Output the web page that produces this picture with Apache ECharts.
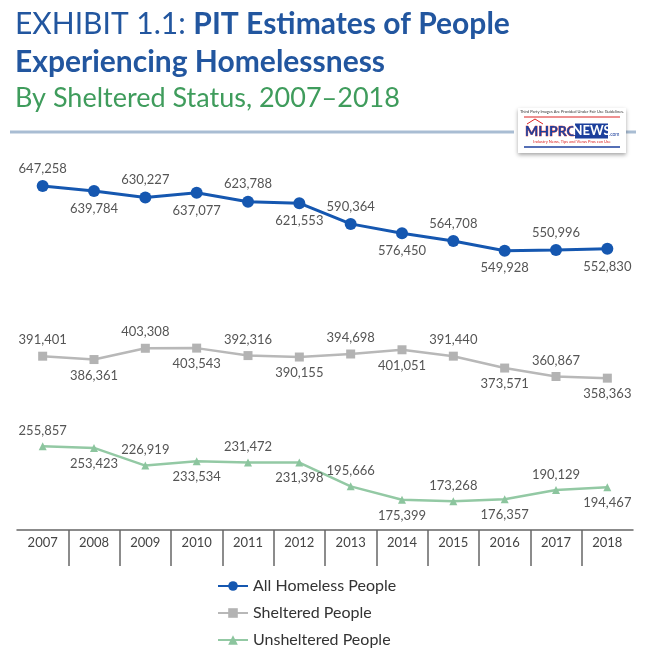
<!DOCTYPE html>
<html>
<head>
<meta charset="utf-8">
<script src="https://cdn.jsdelivr.net/npm/echarts@6/dist/echarts.min.js"></script>
<style>
html,body{margin:0;padding:0;background:#fff;}
#c{width:655px;height:664px;}
</style>
</head>
<body>
<div id="c"></div>
<script>
const years = ['2007','2008','2009','2010','2011','2012','2013','2014','2015','2016','2017','2018'];
const allHomeless = [647258, 639784, 630227, 637077, 623788, 621553, 590364, 576450, 564708, 549928, 550996, 552830];
const sheltered = [391401, 386361, 403308, 403543, 392316, 390155, 394698, 401051, 391440, 373571, 360867, 358363];
const unsheltered = [255857, 253423, 226919, 233534, 231472, 231398, 195666, 175399, 173268, 176357, 190129, 194467];
const seriesNames = ['All Homeless People', 'Sheltered People', 'Unsheltered People'];

const FONT = 'Lato, "Open Sans", sans-serif';
const chart = echarts.init(document.getElementById('c'));

function withLabels(arr) {
  return arr.map((v, i) => ({ value: v, label: { position: i % 2 === 0 ? 'top' : 'bottom' } }));
}
const labelBase = {
  show: true,
  color: '#555',
  fontSize: 13,
  fontFamily: FONT,
  distance: 5,
  formatter: p => p.value.toLocaleString('en-US')
};

const option = {
  backgroundColor: '#fff',
  animation: false,
  graphic: [
    { type: 'text', left: 15, top: 9, style: {
      text: '{r|EXHIBIT 1.1: }{b|PIT Estimates of People}',
      rich: {
        r: { font: '30px ' + FONT, fill: '#22569f' },
        b: { font: 'bold 30px ' + FONT, fill: '#22569f' }
      }
    }},
    { type: 'text', left: 15, top: 47, style: { text: 'Experiencing Homelessness', font: 'bold 30px ' + FONT, fill: '#22569f' } },
    { type: 'text', left: 15, top: 85, style: { text: 'By Sheltered Status, 2007\u20132018', font: '27px ' + FONT, fill: '#3f9c5c' } },
    { type: 'line', shape: { x1: 10, y1: 132, x2: 514, y2: 132 }, style: { stroke: '#a9bdd3', lineWidth: 3 } },
    { type: 'line', shape: { x1: 626, y1: 132, x2: 636, y2: 132 }, style: { stroke: '#a9bdd3', lineWidth: 3 } },
    { type: 'group', x: 518, y: 108, children: [
      { type: 'rect', shape: { x: 0, y: 0, width: 108, height: 45 }, style: { fill: '#fff', shadowBlur: 4, shadowColor: 'rgba(0,0,0,0.35)', shadowOffsetY: 2 } },
      { type: 'text', x: 54, y: 4, style: { text: 'Third Party Images Are Provided Under Fair Use Guidelines.', font: '4px ' + FONT, fill: '#333', align: 'center', verticalAlign: 'middle' } },
      { type: 'line', shape: { x1: 6, y1: 9, x2: 102, y2: 9 }, style: { stroke: '#d22', lineWidth: 1.2 } },
      { type: 'polyline', shape: { points: [[9, 16], [17, 11], [25, 16]] }, style: { stroke: '#d22', lineWidth: 1, fill: null } },
      { type: 'text', x: 7, y: 23, style: { text: 'MHPRO', font: 'bold 14px ' + FONT, fill: '#1c3f9c', stroke: '#d22', lineWidth: 0.6, verticalAlign: 'middle' } },
      { type: 'rect', shape: { x: 57, y: 15.5, width: 33, height: 15 }, style: { fill: '#1c3f9c' } },
      { type: 'text', x: 73.5, y: 23, style: { text: 'NEWS', font: 'bold 13px ' + FONT, fill: '#fff', align: 'center', verticalAlign: 'middle' } },
      { type: 'text', x: 91, y: 26, style: { text: '.com', font: '5px ' + FONT, fill: '#1c3f9c', verticalAlign: 'middle' } },
      { type: 'text', x: 54, y: 34, style: { text: 'Industry News, Tips and Views Pros can Use', font: '4px ' + FONT, fill: '#d22', align: 'center', verticalAlign: 'middle' } },
      { type: 'line', shape: { x1: 6, y1: 39, x2: 102, y2: 39 }, style: { stroke: '#1c3f9c', lineWidth: 1.5 } }
    ]}
  ],
  legend: {
    orient: 'vertical',
    left: 212,
    top: 573,
    itemWidth: 30,
    itemHeight: 12,
    itemGap: 11,
    data: seriesNames,
    textStyle: { fontSize: 16, color: '#333', fontFamily: FONT, lineHeight: 15 }
  },
  grid: [
    { left: 17, right: 22, top: 151, bottom: 134 },
    { left: 17, right: 22, top: 530, height: 36 }
  ],
  xAxis: [
    { type: 'category', gridIndex: 0, data: years, boundaryGap: true,
      axisLine: { lineStyle: { color: '#666', width: 1.5 } },
      axisTick: { show: false },
      axisLabel: { color: '#444', fontSize: 13, fontFamily: FONT, margin: 6 } },
    { type: 'category', gridIndex: 1, data: years, boundaryGap: true,
      axisLine: { show: false }, axisTick: { show: false }, axisLabel: { show: false },
      splitLine: { show: true, showMinLine: false, showMaxLine: false, lineStyle: { color: '#666', width: 1.5 } } }
  ],
  yAxis: [
    { type: 'value', gridIndex: 0, min: 130000, max: 700000, show: false },
    { type: 'value', gridIndex: 1, show: false }
  ],
  series: [
    { name: seriesNames[0], type: 'line', xAxisIndex: 0, yAxisIndex: 0,
      data: withLabels(allHomeless), symbol: 'circle', symbolSize: 12,
      itemStyle: { color: '#1557b0' }, lineStyle: { color: '#1557b0', width: 3 },
      label: labelBase },
    { name: seriesNames[1], type: 'line', xAxisIndex: 0, yAxisIndex: 0,
      data: withLabels(sheltered), symbol: 'rect', symbolSize: 9,
      itemStyle: { color: '#b3b3b3' }, lineStyle: { color: '#b8b8b8', width: 2.5 },
      label: labelBase },
    { name: seriesNames[2], type: 'line', xAxisIndex: 0, yAxisIndex: 0,
      data: withLabels(unsheltered), symbol: 'triangle', symbolSize: 8,
      itemStyle: { color: '#8cc59e' }, lineStyle: { color: '#93c9a4', width: 2.5 },
      label: labelBase }
  ]
};
chart.setOption(option);
</script>
</body>
</html>
